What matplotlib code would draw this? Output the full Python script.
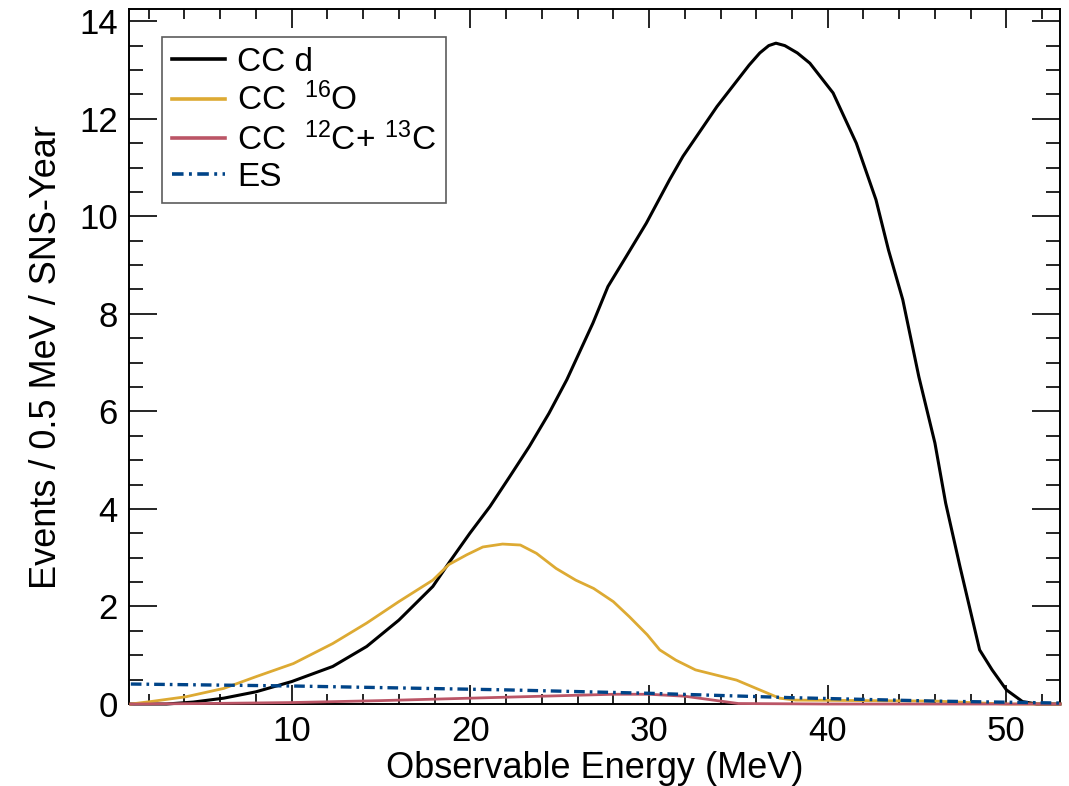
import matplotlib
matplotlib.use('Agg')
import matplotlib.pyplot as plt
from matplotlib.ticker import MultipleLocator

plt.rcParams['font.family'] = ['Liberation Sans', 'DejaVu Sans']
plt.rcParams['mathtext.fontset'] = 'custom'
plt.rcParams['mathtext.rm'] = 'Liberation Sans'
plt.rcParams['mathtext.default'] = 'regular'

# CC on deuterium
ccd_x = [1, 3, 4.5, 6.2, 8, 10, 12.3, 14.2, 16, 17.9, 18.85, 19.97, 21.1, 22.2, 23.3, 24.4,
         25.4, 26.86, 27.7, 28.73, 29.85, 31.15, 31.9, 33.8, 35.6, 36.2, 36.7, 37.1, 37.6,
         38.3, 39, 40.3, 41.6, 42.7, 43.4, 44.2, 45.1, 46, 46.6, 47.4, 48.5, 49.2, 50, 50.9,
         51.7, 53]
ccd_y = [0, 0, 0.04, 0.12, 0.25, 0.46, 0.77, 1.18, 1.72, 2.41, 2.92, 3.50, 4.05, 4.66, 5.28, 5.96,
         6.65, 7.81, 8.56, 9.18, 9.86, 10.75, 11.23, 12.25, 13.1, 13.35, 13.5, 13.55, 13.5,
         13.35, 13.14, 12.53, 11.5, 10.34, 9.31, 8.29, 6.71, 5.35, 4.12, 2.82, 1.11, 0.70, 0.29, 0.05,
         0, 0]

# CC on oxygen
cco_x = [1, 2.1, 4.1, 6.2, 8, 10.1, 12.3, 14.2, 16, 17.9, 18.8, 19.8, 20.7, 21.8, 22.8,
         23.7, 24.8, 25.9, 26.9, 28, 28.9, 29.9, 30.6, 31.5, 32.6, 33.8, 34.9, 36, 37.3,
         38.2, 42, 46, 48, 50, 53]
cco_y = [0, 0.05, 0.15, 0.32, 0.56, 0.83, 1.24, 1.66, 2.10, 2.54, 2.86, 3.06, 3.22, 3.28, 3.26,
         3.09, 2.78, 2.54, 2.37, 2.10, 1.79, 1.42, 1.11, 0.90, 0.70, 0.59, 0.49, 0.32, 0.12,
         0.08, 0.07, 0.06, 0.03, 0, 0]

# CC on carbon
ccc_x = [1, 5, 10, 15, 20, 22, 26, 28, 30, 32, 34, 35, 40, 53]
ccc_y = [0, 0.01, 0.03, 0.07, 0.12, 0.14, 0.18, 0.2, 0.2, 0.16, 0.06, 0.01, 0, 0]

# elastic scattering
es_x = [1, 10, 16, 22, 30, 38, 46, 53]
es_y = [0.41, 0.37, 0.33, 0.29, 0.22, 0.13, 0.06, 0.02]

fig = plt.figure(figsize=(10.69, 7.86), dpi=100)
ax = fig.add_axes([0.1207, 0.1043, 0.8709, 0.8842])

ax.plot(ccd_x, ccd_y, color='black', lw=2.2, label='CC d', clip_on=False, zorder=3)
ax.plot(cco_x, cco_y, color='#DDAA33', lw=2.0, label=r'CC  $^{16}$O', clip_on=False, zorder=4)
ax.plot(ccc_x, ccc_y, color='#BB5566', lw=2.0, label=r'CC  $^{12}$C+ $^{13}$C', clip_on=False, zorder=5)
ax.plot(es_x, es_y, color='#004488', lw=2.4, ls=(0, (3.2, 1.5, 0.8, 1.5)), label='ES',
        clip_on=False, zorder=6)

ax.set_xlim(0.9, 53)
ax.set_ylim(0, 14.25)
ax.xaxis.set_major_locator(MultipleLocator(10))
ax.xaxis.set_minor_locator(MultipleLocator(2))
ax.yaxis.set_major_locator(MultipleLocator(2))
ax.yaxis.set_minor_locator(MultipleLocator(0.5))
ax.tick_params(which='both', direction='in', top=True, right=True, width=1.2,
               labelsize=25, pad=8)
ax.tick_params(axis='x', which='major', length=14)
ax.tick_params(axis='x', which='minor', length=7)
ax.tick_params(axis='y', which='major', length=20)
ax.tick_params(axis='y', which='minor', length=10)
for s in ax.spines.values():
    s.set_linewidth(1.4)

ax.set_xlabel('Observable Energy (MeV)', fontsize=26, labelpad=2)
ax.set_ylabel('Events / 0.5 MeV / SNS-Year', fontsize=26, labelpad=11)

leg = ax.legend(loc='upper left', bbox_to_anchor=(0.0354, 0.96), fontsize=24,
                frameon=True, fancybox=False, handlelength=1.6, handletextpad=0.35,
                labelspacing=0.15, borderpad=0.3, borderaxespad=0)
leg.get_frame().set_edgecolor('#333333')
leg.get_frame().set_linewidth(1.2)
for h in leg.get_lines():
    h.set_linewidth(2.6)

fig.savefig('out.png', dpi=100)
